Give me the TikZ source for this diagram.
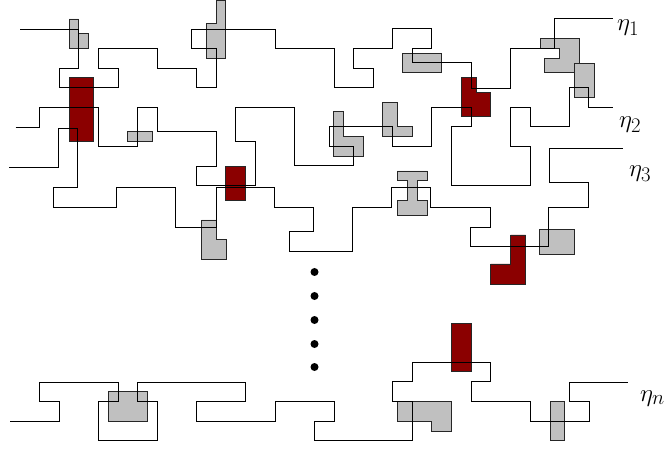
\documentclass[tikz,border=0pt]{standalone}
\definecolor{site}{RGB}{192,192,192}
\definecolor{blocked}{RGB}{139,0,0}
\tikzset{
  walk/.style={line width=0.9pt},
  grey cell/.style={fill=site, draw=black!85, line width=0.9pt},
  red cell/.style={fill=blocked, draw=black!85, line width=0.9pt},
}
\begin{document}
\begin{tikzpicture}[x=1pt, y=-1pt, every node/.style={font=\fontsize{28}{30}\selectfont, inner sep=0pt}]
  \useasboundingbox (0,0) rectangle (667,449);

  % grey polyominoes
  \filldraw[grey cell] (69,19) -- (78.7,19) -- (78.7,33.7) -- (88.3,33.7) -- (88.3,48.3) -- (69,48.3) -- cycle;
  \filldraw[grey cell] (216,0) -- (225.7,0) -- (225.7,58.3) -- (206.7,58.3) -- (206.7,23.3) -- (216,23.3) -- cycle;
  \filldraw[grey cell] (127.7,131.7) rectangle (152.3,141.7);
  \filldraw[grey cell] (402.3,53.3) rectangle (441.7,72.7);
  \filldraw[grey cell] (540,38.3) -- (579.3,38.3) -- (579.3,63) -- (574.3,63) -- (574.3,72.5) -- (544.5,72.5) -- (544.5,58.3) -- (559.3,58.3) -- (559.3,48.3) -- (540,48.3) -- cycle;
  \filldraw[grey cell] (574.3,63) rectangle (594,97.3);
  \filldraw[grey cell] (333.3,111.7) -- (343.3,111.7) -- (343.3,136.7) -- (363.3,136.7) -- (363.3,156) -- (333.3,156) -- cycle;
  \filldraw[grey cell] (382.7,102.3) -- (397.7,102.3) -- (397.7,126.7) -- (412.3,126.7) -- (412.3,136.7) -- (382.7,136.7) -- cycle;
  \filldraw[grey cell] (397.3,171) -- (427.3,171) -- (427.3,180.7) -- (417.3,180.7) -- (417.3,200.7) -- (427.3,200.7) -- (427.3,215.3)
    -- (397.3,215.3) -- (397.3,200.7) -- (407.7,200.7) -- (407.7,180.7) -- (397.3,180.7) -- cycle;
  \filldraw[grey cell] (201.7,220) -- (216,220) -- (216,239.3) -- (226,239.3) -- (226,259) -- (201.7,259) -- cycle;
  \filldraw[grey cell] (539.3,229.3) rectangle (574.3,254.3);
  \filldraw[grey cell] (108.3,391.7) rectangle (147.3,421);
  \filldraw[grey cell] (397.7,401) -- (451.7,401) -- (451.7,431) -- (431.7,431) -- (431.7,421) -- (397.7,421) -- cycle;
  \filldraw[grey cell] (550,401.7) rectangle (564.3,440.7);

  % red polyominoes
  \filldraw[red cell] (69,77.7) rectangle (93.3,141.7);
  \filldraw[red cell] (225.7,166) rectangle (245.7,200.7);
  \filldraw[red cell] (461.7,77.7) -- (476.7,77.7) -- (476.7,92.3) -- (490.7,92.3) -- (490.7,116.7) -- (461.7,116.7) -- cycle;
  \filldraw[red cell] (510.7,235) -- (525.7,235) -- (525.7,284) -- (490.7,284) -- (490.7,264) -- (510.7,264) -- cycle;
  \filldraw[red cell] (451,323) rectangle (471,371.7);

  % walks
  \draw[walk] (20,29) -- (78.7,29) -- (78.7,68.3) -- (59.3,68.3) -- (59.3,87.7) -- (118,87.7) -- (118,68.3) -- (98.7,68.3)
    -- (98.7,48.7) -- (157.3,48.7) -- (157.3,68.3) -- (196.7,68.3) -- (196.7,87.7) -- (216,87.7) -- (216,48.7) -- (191.7,48.7)
    -- (191.7,29) -- (275,29) -- (275,48.7) -- (334,48.7) -- (334,87.7) -- (373.3,87.7) -- (373.3,68.3) -- (353.3,68.3)
    -- (353.3,48.7) -- (392.7,48.7) -- (392.7,28.3) -- (431.7,28.3) -- (431.7,48.3) -- (412.3,48.3) -- (412.3,62.7)
    -- (471,62.7) -- (471,88) -- (510,88) -- (510,48.7) -- (554.3,48.7) -- (554.3,18.7) -- (613.3,18.7) coordinate (end1);
  \draw[walk] (15.7,127) -- (39.3,127) -- (39.3,107.3) -- (98.7,107.3) -- (98.7,146.7) -- (137.7,146.7) -- (137.7,107.3)
    -- (157.3,107.3) -- (157.3,131.7) -- (216,131.7) -- (216,166) -- (196.7,166) -- (196.7,185.5) -- (255.7,185.5)
    -- (255.7,141.7) -- (235.7,141.7) -- (235.7,107.3) -- (294.3,107.3) -- (294.3,165.7) -- (353.3,165.7) -- (353.3,146.7)
    -- (329,146.7) -- (329,126.7) -- (392.3,126.7) -- (392.3,146.7) -- (431.7,146.7) -- (431.7,107.3) -- (471.7,107.3)
    -- (471.7,126.7) -- (451.7,126.7) -- (451.7,185) -- (530,185) -- (530,146) -- (510,146) -- (510,107.3) -- (530,107.3)
    -- (530,126.7) -- (569.3,126.7) -- (569.3,87.7) -- (588.3,87.7) -- (588.3,107.3) -- (613,107.3) coordinate (end2);
  \draw[walk] (9,167.7) -- (58.3,167.7) -- (58.3,128.3) -- (77.7,128.3) -- (77.7,187.7) -- (53.3,187.7) -- (53.3,207.3)
    -- (116.7,207.3) -- (116.7,187.7) -- (175.7,187.7) -- (175.7,227) -- (216,227) -- (216,187.7) -- (274,187.7)
    -- (274,207.3) -- (313.3,207.3) -- (313.3,231.3) -- (289,231.3) -- (289,251) -- (352.3,251) -- (352.3,207.3)
    -- (391.7,207.3) -- (391.7,187.7) -- (430.7,187.7) -- (430.7,207.3) -- (490,207.3) -- (490,227.3) -- (470.7,227.3)
    -- (470.7,246.7) -- (548.3,246.7) -- (548.3,207.3) -- (588.3,207.3) -- (588.3,182.7) -- (549,182.7) -- (549,148.3)
    -- (622.7,148.3) coordinate (end3);
  \draw[walk] (10,421) -- (59.3,421) -- (59.3,401.7) -- (39.3,401.7) -- (39.3,382.3) -- (118,382.3) -- (118,401.7)
    -- (98.7,401.7) -- (98.7,440.3) -- (157.3,440.3) -- (157.3,401.7) -- (137.7,401.7) -- (137.7,382.3) -- (245,382.3)
    -- (245,401.4) -- (196.7,401.4) -- (196.7,421) -- (275,421) -- (275,401) -- (334,401) -- (334,421) -- (314.3,421)
    -- (314.3,440) -- (412.3,440) -- (412.3,401) -- (392.7,401) -- (392.7,381.7) -- (412.3,381.7) -- (412.3,362.3)
    -- (490.7,362.3) -- (490.7,381.7) -- (471.7,381.7) -- (471.7,401.7) -- (530,401.7) -- (530,421) -- (589,421)
    -- (589,401.7) -- (569.3,401.7) -- (569.3,382.3) -- (627.7,382.3) coordinate (endn);

  % vertical dots
  \foreach \y in {272,296,320,344,367}{\fill (314.5,\y) circle (4);}

  \node[anchor=base west] (eta1) at (617,31) {$\eta_1$};
  \node[anchor=base west] (eta2) at (619,128) {$\eta_2$};
  \node[anchor=base west] (eta3) at (629,177) {$\eta_3$};
  \node[anchor=base west] (etan) at (640,401) {$\eta_n$};
\end{tikzpicture}
\end{document}
